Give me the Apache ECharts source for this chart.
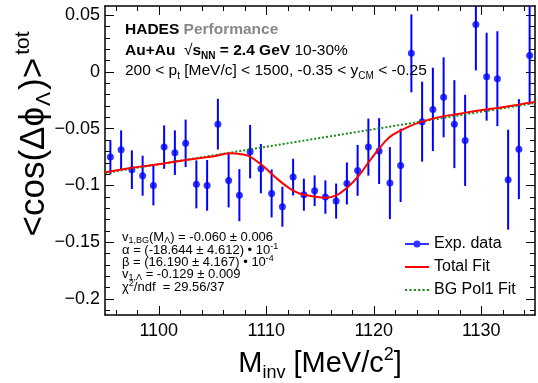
<!DOCTYPE html>
<html>
<head>
<meta charset="utf-8">
<script src="https://cdn.jsdelivr.net/npm/echarts@6/dist/echarts.min.js"></script>
<style>
  html, body { margin: 0; padding: 0; background: #fff; }
  #chart { width: 538px; height: 383px; }
</style>
</head>
<body>
<div id="chart"></div>
<script>
// Invariant-mass bins (MeV/c^2) and the measured <cos(Δϕ)> per bin
const binCenters = [1095.5, 1096.5, 1097.5, 1098.5, 1099.5, 1100.5, 1101.5, 1102.5, 1103.5, 1104.5,
                    1105.5, 1106.5, 1107.5, 1108.5, 1109.5, 1110.5, 1111.5, 1112.5, 1113.5, 1114.5,
                    1115.5, 1116.5, 1117.5, 1118.5, 1119.5, 1120.5, 1121.5, 1122.5, 1123.5, 1124.5,
                    1125.5, 1126.5, 1127.5, 1128.5, 1129.5, 1130.5, 1131.5, 1132.5, 1133.5, 1134.5];
const v1Values = [-0.0750, -0.0685, -0.0861, -0.0914, -0.0999, -0.0662, -0.0711, -0.0629, -0.0990, -0.0999,
                  -0.0460, -0.0955, -0.1085, -0.0702, -0.0852, -0.1070, -0.1187, -0.0926, -0.1081, -0.1046,
                  -0.1102, -0.1137, -0.0982, -0.0867, -0.0662, -0.0697, -0.0979, -0.0823, 0.0163, -0.0438,
                  -0.0330, -0.0224, -0.0460, -0.0603, 0.0418, -0.0042, -0.0060, -0.0949, -0.0680, 0.0145];
const v1Errors = [0.0150, 0.0170, 0.0170, 0.0176, 0.0176, 0.0191, 0.0196, 0.0209, 0.0211, 0.0223,
                  0.0223, 0.0238, 0.0229, 0.0235, 0.0217, 0.0211, 0.0176, 0.0161, 0.0141, 0.0135,
                  0.0147, 0.0154, 0.0185, 0.0224, 0.0251, 0.0290, 0.0317, 0.0323, 0.0343, 0.0352,
                  0.0367, 0.0352, 0.0387, 0.0401, 0.0405, 0.0387, 0.0418, 0.0440, 0.0440, 0.0431];

// Total fit (signal + background) sampled along the mass axis
const fitMass = [1095.0, 1097.5, 1100.0, 1102.5, 1105.0, 1106.6, 1107.5, 1108.4, 1109.7, 1110.9,
                 1112.2, 1113.1, 1114.6, 1115.5, 1116.5, 1117.7, 1118.7, 1119.6, 1120.5, 1121.4,
                 1122.4, 1124.2, 1126.1, 1128.0, 1129.8, 1131.7, 1133.6, 1135.0];
const fitTotal = [-0.0885, -0.0843, -0.0814, -0.0775, -0.0744, -0.0717, -0.0722, -0.0741, -0.0829, -0.0932,
                  -0.1028, -0.1070, -0.1099, -0.1107, -0.1087, -0.1005, -0.0902, -0.0785, -0.0676, -0.0579,
                  -0.0521, -0.0447, -0.0398, -0.0368, -0.0339, -0.0315, -0.0286, -0.0264];

// Linear background fit
const bgMass = [1095, 1135];
const bgValues = [-0.0890, -0.0274];

// Axis ranges and ticks
const xRange = [1095, 1135];
const yRange = [-0.214, 0.058];
const xMajorTicks = [1100, 1110, 1120, 1130];
const yMajorTicks = [-0.2, -0.15, -0.1, -0.05, 0, 0.05];
const xMinorTicks = [];
for (let m = 1096; m <= 1134; m += 2) xMinorTicks.push(m);
const yMinorTicks = [];
for (let k = -21; k <= 5; k++) yMinorTicks.push(k / 100);

const F = 'Liberation Sans, Arial, Helvetica, sans-serif';
const BLUE = '#0000ff';
const RED = '#ff0000';
const GREEN = '#1d8a1d';

function xAxis(position, ticks, len, withLabels, withLine) {
  return {
    type: 'value', min: xRange[0], max: xRange[1], position: position,
    axisLine: { show: withLine, onZero: false, lineStyle: { color: '#000', width: 1.5 } },
    axisTick: { show: true, inside: true, length: len, customValues: ticks, lineStyle: { color: '#000', width: 1 } },
    axisLabel: withLabels ? {
      show: true, customValues: ticks, margin: 7, fontSize: 18, fontFamily: F, color: '#000',
      formatter: function (v) { return String(v); }
    } : { show: false },
    splitLine: { show: false }
  };
}
function yAxis(position, ticks, len, withLabels, withLine) {
  return {
    type: 'value', min: yRange[0], max: yRange[1], position: position,
    axisLine: { show: withLine, onZero: false, lineStyle: { color: '#000', width: 1.5 } },
    axisTick: { show: true, inside: true, length: len, customValues: ticks, lineStyle: { color: '#000', width: 1 } },
    axisLabel: withLabels ? {
      show: true, customValues: ticks, margin: 5, fontSize: 18, fontFamily: F, color: '#000',
      formatter: function (v) { return v === 0 ? '0' : (v < 0 ? '\u2212' : '') + String(Math.abs(v)); }
    } : { show: false },
    splitLine: { show: false }
  };
}

function textEl(x, y, text, fontSize, rich, extra) {
  return {
    type: 'text', x: x, y: y, z: 100,
    style: Object.assign({
      text: text, fill: '#000', fontFamily: F, fontSize: fontSize,
      align: 'left', verticalAlign: 'middle', rich: rich
    }, extra || {})
  };
}

const topRich = {
  b: { fontFamily: F, fontSize: 15.5, fontWeight: 'bold', lineHeight: 20, verticalAlign: 'middle', fill: '#000' },
  g: { fontFamily: F, fontSize: 15.5, fontWeight: 'bold', lineHeight: 20, verticalAlign: 'middle', fill: '#888888' },
  n: { fontFamily: F, fontSize: 15.5, lineHeight: 20, verticalAlign: 'middle', fill: '#000' },
  bs: { fontFamily: F, fontSize: 10, fontWeight: 'bold', lineHeight: 10, verticalAlign: 'bottom', fill: '#000' },
  s: { fontFamily: F, fontSize: 10, lineHeight: 10, verticalAlign: 'bottom', fill: '#000' }
};
const fitRich = {
  n: { fontFamily: F, fontSize: 13, lineHeight: 16, verticalAlign: 'middle', fill: '#000' },
  s: { fontFamily: F, fontSize: 9, lineHeight: 9, verticalAlign: 'bottom', fill: '#000' },
  p: { fontFamily: F, fontSize: 9, lineHeight: 9, verticalAlign: 'top', fill: '#000' }
};
const xTitleRich = {
  n: { fontFamily: F, fontSize: 29, lineHeight: 36, verticalAlign: 'middle', fill: '#000' },
  s: { fontFamily: F, fontSize: 18, lineHeight: 18, verticalAlign: 'bottom', fill: '#000' },
  p: { fontFamily: F, fontSize: 18, lineHeight: 18, verticalAlign: 'top', fill: '#000' }
};
const yTitleRich = {
  n: { fontFamily: F, fontSize: 35, lineHeight: 42, verticalAlign: 'middle', fill: '#000' },
  s: { fontFamily: F, fontSize: 21, lineHeight: 21, verticalAlign: 'bottom', fill: '#000', padding: [0, 2, 0, 1] },
  p: { fontFamily: F, fontSize: 21, lineHeight: 21, verticalAlign: 'top', fill: '#000', padding: [0, 0, 0, 3] }
};

// legend glyphs: marker with bar, solid line, dotted line
const iconData = 'path://M0,5.5h24v2h-24z M8.5,6.5a3.5,3.5 0 1,1 7,0a3.5,3.5 0 1,1 -7,0z';
const iconSolid = 'path://M0,0h24v2h-24z';
const iconDotted = 'path://M0,0h2v2h-2z M4,0h2v2h-2z M8,0h2v2h-2z M12,0h2v2h-2z M16,0h2v2h-2z M20,0h2v2h-2z';

const chart = echarts.init(document.getElementById('chart'), null, { renderer: 'canvas' });

chart.setOption({
  backgroundColor: '#fff',
  animation: false,
  grid: { left: 105, right: 3, top: 6, bottom: 68, outerBoundsMode: 'none' },
  xAxis: [
    xAxis('bottom', xMajorTicks, 9, true, true),
    xAxis('bottom', xMinorTicks, 5, false, false),
    xAxis('top', xMajorTicks, 9, false, true),
    xAxis('top', xMinorTicks, 5, false, false)
  ],
  yAxis: [
    yAxis('left', yMajorTicks, 9, true, true),
    yAxis('left', yMinorTicks, 5, false, false),
    yAxis('right', yMajorTicks, 9, false, true),
    yAxis('right', yMinorTicks, 5, false, false)
  ],
  legend: {
    orient: 'vertical', left: 405, top: 236, padding: 0, itemGap: 7,
    itemWidth: 24, itemHeight: 12, selectedMode: false,
    textStyle: { fontFamily: F, fontSize: 16, color: '#000' },
    data: [
      { name: 'Exp. data', icon: iconData, itemStyle: { color: BLUE, borderWidth: 0 } },
      { name: 'Total Fit', icon: iconSolid, itemStyle: { color: RED, borderWidth: 0 } },
      { name: 'BG Pol1 Fit', icon: iconDotted, itemStyle: { color: GREEN, borderWidth: 0 } }
    ]
  },
  series: [
    {
      name: 'Exp. data errors', type: 'custom', z: 2,
      data: binCenters.map((m, i) => [m, v1Values[i], v1Errors[i]]),
      encode: { x: 0, y: 1 },
      renderItem: function (params, api) {
        const m = api.value(0), v = api.value(1), e = api.value(2);
        const lo = Math.max(v - e, yRange[0]);
        const hi = Math.min(v + e, yRange[1]);
        const p1 = api.coord([m, lo]);
        const p2 = api.coord([m, hi]);
        return {
          type: 'line',
          shape: { x1: p1[0], y1: p1[1], x2: p2[0], y2: p2[1] },
          style: { stroke: BLUE, lineWidth: 2 }
        };
      }
    },
    {
      name: 'Exp. data', type: 'scatter', z: 3,
      symbol: 'circle', symbolSize: 7,
      itemStyle: { color: BLUE },
      data: binCenters.map((m, i) => [m, v1Values[i]])
    },
    {
      name: 'BG Pol1 Fit', type: 'line', z: 4,
      symbol: 'none', silent: true,
      lineStyle: { color: GREEN, width: 2, type: [2, 2] },
      itemStyle: { color: GREEN },
      data: bgMass.map((m, i) => [m, bgValues[i]])
    },
    {
      name: 'Total Fit', type: 'line', z: 5,
      symbol: 'none', smooth: 0.4, silent: true,
      lineStyle: { color: RED, width: 2 },
      itemStyle: { color: RED },
      data: fitMass.map((m, i) => [m, fitTotal[i]])
    }
  ],
  graphic: [
    textEl(125, 30, '{b|HADES} {g|Performance}', 15.5, topRich),
    textEl(125, 51, '{b|Au+Au}  {n|\u221A}{b|s}{bs|NN}{b| = 2.4 GeV} {n|10-30%}', 15.5, topRich),
    textEl(125, 71, '{n|200 < p}{s|t}{n| [MeV/c] < 1500, -0.35 < y}{s|CM}{n| < -0.25}', 15.5, topRich),

    textEl(122, 237, '{n|v}{s|1,BG}{n|(M}{s|\u039B}{n|) = -0.060 \u00B1 0.006}', 13, fitRich),
    textEl(122, 250, '{n|\u03B1 = (-18.644 \u00B1 4.612) \u2022 10}{p|-1}', 13, fitRich),
    textEl(122, 262, '{n|\u03B2 = (16.190 \u00B1 4.167) \u2022 10}{p|-4}', 13, fitRich),
    textEl(122, 274, '{n|v}{s|1,\u039B}{n| = -0.129 \u00B1 0.009}', 13, fitRich),
    textEl(122, 287, '{n|\u03C7}{p|2}{n|/ndf  = 29.56/37}', 13, fitRich),

    // axis titles
    textEl(320, 364, '{n|M}{s|inv}{n| [MeV/c}{p|2}{n|]}', 29, xTitleRich, { align: 'center' }),
    Object.assign(textEl(34, 134, '{n|<cos(\u0394\u03D5}{s|\u039B}{n|)>}{p|tot}', 35, yTitleRich, { align: 'center' }),
                  { rotation: Math.PI / 2 })
  ]
});
</script>
</body>
</html>
